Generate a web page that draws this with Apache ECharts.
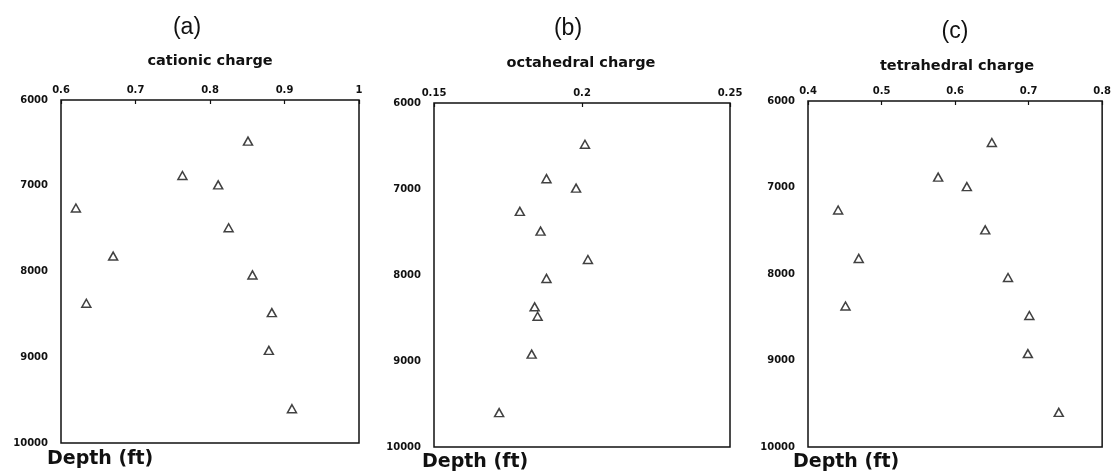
<!DOCTYPE html>
<html>
<head>
<meta charset="utf-8">
<script src="https://cdn.jsdelivr.net/npm/echarts@6/dist/echarts.min.js"></script>
<style>
  html, body { margin: 0; padding: 0; background: #fff; }
  #chart { width: 1114px; height: 473px; }
</style>
</head>
<body>
<div id="chart"></div>
<script>
// Sample depths (ft) shared by the three profiles
const depth = [6480, 6880, 6990, 7260, 7490, 7820, 8040, 8370, 8480, 8920, 9600];
// Layer charge per sample
const cationic    = [0.851, 0.763, 0.811, 0.620, 0.825, 0.670, 0.857, 0.634, 0.883, 0.879, 0.910];
const octahedral  = [0.201, 0.188, 0.198, 0.179, 0.186, 0.202, 0.188, 0.184, 0.185, 0.183, 0.172];
const tetrahedral = [0.650, 0.577, 0.616, 0.441, 0.641, 0.469, 0.672, 0.451, 0.701, 0.699, 0.741];

const panelLetters = ['(a)', '(b)', '(c)'];
const panelTitles = ['cationic charge', 'octahedral charge', 'tetrahedral charge'];
const xRanges = [[0.6, 1.0, 0.1], [0.15, 0.25, 0.05], [0.4, 0.8, 0.1]];
const depthRange = [6000, 10000, 1000];
const depthLabel = 'Depth (ft)';
const values = [cationic, octahedral, tetrahedral];

// Panel frames in pixels
const frames = [
  { left: 61,  top: 100, width: 298, height: 343 },
  { left: 434, top: 103, width: 296, height: 344 },
  { left: 808, top: 101, width: 296, height: 346 }
];
const letterPos = [[187, 28], [568, 29], [955, 32]];
const titlePos = [[210, 61], [581, 63], [957, 66]];
const depthPos = [[47, 459], [422, 462], [793, 462]];

const ink = '#111';
const tickFont = { color: ink, fontFamily: 'DejaVu Sans', fontWeight: 'bold', fontSize: 10 };

const grid = [], xAxis = [], yAxis = [], series = [], graphic = [];
frames.forEach((f, i) => {
  grid.push({
    left: f.left, top: f.top, width: f.width, height: f.height,
    show: true, borderColor: ink, borderWidth: 1.5, backgroundColor: 'transparent'
  });
  xAxis.push({
    type: 'value', gridIndex: i, position: 'top',
    min: xRanges[i][0], max: xRanges[i][1], interval: xRanges[i][2],
    axisLine: { show: false },
    axisTick: { show: true, inside: true, length: 4, lineStyle: { color: ink, width: 1.2 } },
    splitLine: { show: false },
    axisLabel: Object.assign({ margin: 5, formatter: v => String(+v.toFixed(2)) }, tickFont)
  });
  yAxis.push({
    type: 'value', gridIndex: i, inverse: true,
    min: depthRange[0], max: depthRange[1], interval: depthRange[2],
    axisLine: { show: false },
    axisTick: { show: false },
    splitLine: { show: false },
    axisLabel: Object.assign({ margin: 13, formatter: v => String(Math.round(v)) }, tickFont)
  });
  series.push({
    type: 'scatter', xAxisIndex: i, yAxisIndex: i,
    data: values[i].map((v, k) => [v, depth[k]]),
    symbol: 'triangle', symbolSize: [9, 8],
    itemStyle: { color: '#fff', borderColor: ink, borderWidth: 1.5 },
    emphasis: { disabled: true },
    silent: true
  });
  graphic.push({
    type: 'text', x: letterPos[i][0], y: letterPos[i][1],
    style: { text: panelLetters[i], fill: ink, font: '23px "Liberation Sans", Arial, sans-serif',
             textAlign: 'center', textVerticalAlign: 'middle' }
  });
  graphic.push({
    type: 'text', x: titlePos[i][0], y: titlePos[i][1],
    style: { text: panelTitles[i], fill: ink, font: 'bold 14.5px "DejaVu Sans", sans-serif',
             textAlign: 'center', textVerticalAlign: 'middle' }
  });
  graphic.push({
    type: 'text', x: depthPos[i][0], y: depthPos[i][1],
    style: { text: depthLabel, fill: ink, font: 'bold 19px "DejaVu Sans", sans-serif',
             textAlign: 'left', textVerticalAlign: 'middle' }
  });
});

const chart = echarts.init(document.getElementById('chart'), null, { renderer: 'canvas' });
chart.setOption({
  animation: false,
  backgroundColor: '#fff',
  grid, xAxis, yAxis, series, graphic
});
</script>
</body>
</html>
